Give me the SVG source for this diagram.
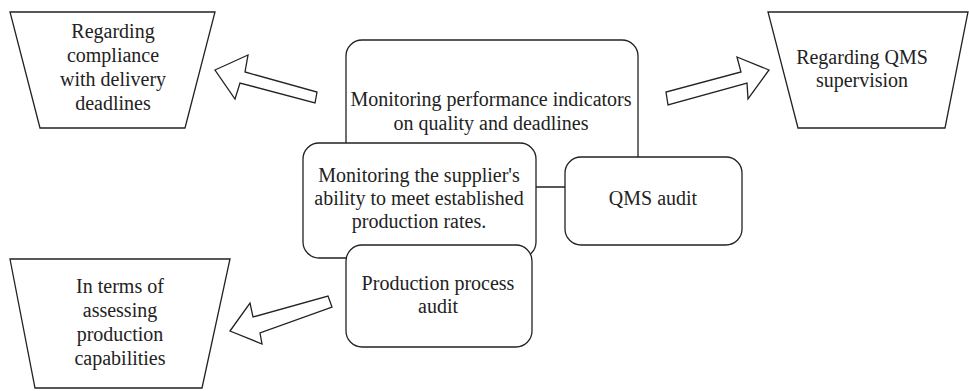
<svg xmlns="http://www.w3.org/2000/svg" width="969" height="391" viewBox="0 0 969 391">
<style>
.shape{fill:#fff;stroke:#222;stroke-width:1.3}
.arrow{fill:#fff;stroke:#222;stroke-width:1.3;stroke-linejoin:miter}
text{font-family:"Liberation Serif","Times New Roman",serif;font-size:20px;fill:#222;text-anchor:middle}
</style>
<rect width="969" height="391" fill="#fff"/>
<g id="node-performance">
<rect class="shape" x="346" y="40" width="292" height="147" rx="16"/>
<text x="491" y="106">Monitoring performance indicators</text>
<text x="491" y="130">on quality and deadlines</text>
</g>
<g id="connectors">
<polygon class="arrow" points="215,70 248,55 245,72 317,92 315,103 240,83 235,99"/>
<polygon class="arrow" points="769,70 737,57 741,72 666,92 668,105 747,83 748,99"/>
<polygon class="arrow" points="230,331 250,303 253,317 328,296 332,307 260,333 262,344"/>
</g>
<g id="node-supplier">
<rect class="shape" x="303" y="143" width="233" height="115" rx="16"/>
<text x="419" y="182">Monitoring the supplier's</text>
<text x="419" y="205">ability to meet established</text>
<text x="419" y="228">production rates.</text>
</g>
<g id="node-qms-audit">
<rect class="shape" x="565" y="157" width="177" height="88" rx="16"/>
<text x="653" y="205">QMS audit</text>
</g>
<g id="node-production-audit">
<rect class="shape" x="346" y="245" width="186" height="102" rx="16"/>
<text x="438" y="290">Production process</text>
<text x="438" y="313">audit</text>
</g>
<g id="node-delivery">
<polygon class="shape" points="10,12 215,12 185,128 40,128"/>
<text x="113" y="38">Regarding</text>
<text x="113" y="62">compliance</text>
<text x="113" y="86">with delivery</text>
<text x="113" y="110">deadlines</text>
</g>
<g id="node-qms-supervision">
<polygon class="shape" points="768,12 968,12 945,128 798,128"/>
<text x="862" y="64">Regarding QMS</text>
<text x="862" y="87">supervision</text>
</g>
<g id="node-capabilities">
<polygon class="shape" points="10,259 230,259 202,388 35,388"/>
<text x="120" y="293">In terms of</text>
<text x="120" y="317">assessing</text>
<text x="120" y="341">production</text>
<text x="120" y="365">capabilities</text>
</g>
</svg>
